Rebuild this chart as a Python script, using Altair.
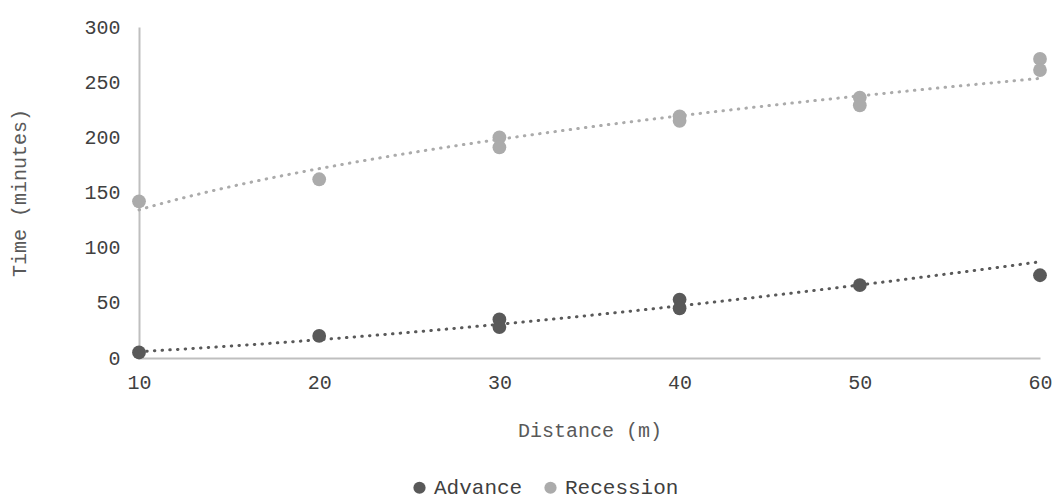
import altair as alt
import pandas as pd

advance_x = [10, 20, 30, 30, 40, 40, 50, 60]
advance_y = [5, 20, 35, 28, 53, 45, 66, 75]
recession_x = [10, 20, 30, 30, 40, 40, 50, 50, 60, 60]
recession_y = [142, 162, 200, 191, 219, 215, 236, 229, 271, 261]
series_names = ["Advance", "Recession"]
series_colors = ["#595959", "#ababab"]

df = pd.DataFrame(
    {"Distance": advance_x, "Time": advance_y, "Series": "Advance"}
)
df = pd.concat([
    df,
    pd.DataFrame({"Distance": recession_x, "Time": recession_y, "Series": "Recession"}),
], ignore_index=True)

FONT = "Liberation Mono"

xenc = alt.X("Distance:Q", title="Distance (m)",
             scale=alt.Scale(domain=[10, 60], nice=False, zero=False),
             axis=alt.Axis(values=[10, 20, 30, 40, 50, 60], grid=False, ticks=False,
                           domainColor="#bfbfbf", domainWidth=2, labelFlush=False,
                           labelPadding=14, titlePadding=28))
yenc = alt.Y("Time:Q", title="Time (minutes)",
             scale=alt.Scale(domain=[0, 300], nice=False),
             axis=alt.Axis(values=[0, 50, 100, 150, 200, 250, 300], grid=False, ticks=False,
                           domainColor="#bfbfbf", domainWidth=2, labelFlush=False,
                           labelPadding=19, titlePadding=54))
color = alt.Color("Series:N", scale=alt.Scale(domain=series_names, range=series_colors),
                  legend=alt.Legend(title=None, orient="none", direction="horizontal",
                                    legendX=270, legendY=450, symbolType="circle",
                                    symbolSize=150, labelOffset=4, columnPadding=17,
                                    symbolStrokeWidth=0))

points = alt.Chart(df).mark_circle(size=190, opacity=1).encode(x=xenc, y=yenc, color=color)

trend = alt.Chart(df).transform_regression(
    "Distance", "Time", method="pow", groupby=["Series"], extent=[10, 60]
).mark_line(strokeWidth=3, strokeDash=[0.5, 7.2], strokeCap="round").encode(
    x="Distance:Q", y="Time:Q",
    color=alt.Color("Series:N", scale=alt.Scale(domain=series_names, range=series_colors), legend=None),
)

chart = alt.layer(points, trend).properties(
    width=901, height=331,
    autosize=alt.AutoSizeParams(type="none"),
    padding={"left": 139, "top": 27, "right": 16, "bottom": 141},
).configure_view(stroke=None).configure_axis(
    labelFont=FONT, titleFont=FONT, labelFontSize=20, titleFontSize=20,
    labelColor="#404040", titleColor="#595959", titleFontWeight="normal",
).configure_legend(
    labelFont=FONT, labelFontSize=21, labelColor="#404040",
)

chart.save("out.html", embed_options={"renderer": "svg", "actions": False})
